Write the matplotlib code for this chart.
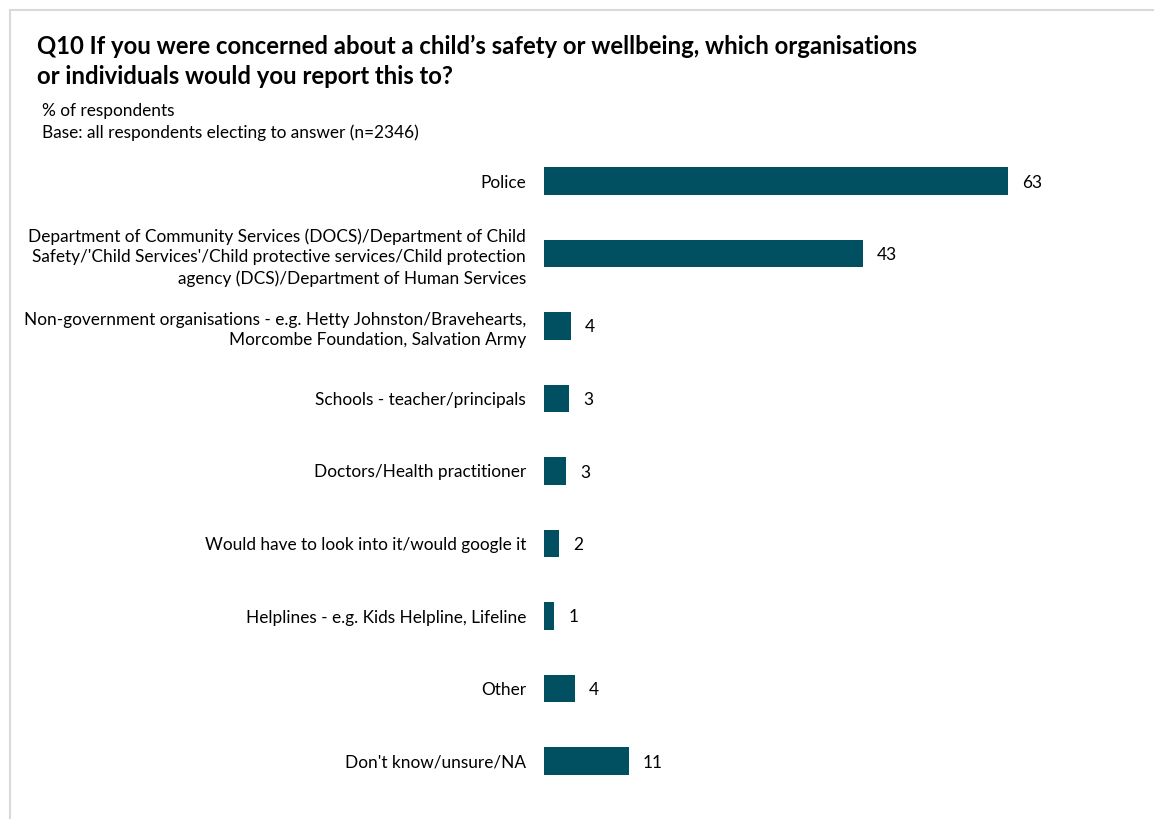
import matplotlib
matplotlib.use("Agg")
from matplotlib import pyplot as plt
from matplotlib.lines import Line2D

categories = [
    "Police",
    "Department of Community Services (DOCS)/Department of Child\nSafety/'Child Services'/Child protective services/Child protection\nagency (DCS)/Department of Human Services",
    "Non-government organisations - e.g. Hetty Johnston/Bravehearts,\nMorcombe Foundation, Salvation Army",
    "Schools - teacher/principals",
    "Doctors/Health practitioner",
    "Would have to look into it/would google it",
    "Helplines - e.g. Kids Helpline, Lifeline",
    "Other",
    "Don't know/unsure/NA",
]
values = [63, 43, 4, 3, 3, 2, 1, 4, 11]
barValues = [63, 43.3, 3.7, 3.4, 3.0, 2.0, 1.4, 4.2, 11.5]

titleLines = ["Q10 If you were concerned about a child\u2019s safety or wellbeing, which organisations",
              "or individuals would you report this to?"]
subStr1 = "% of respondents"
subStr2 = "Base: all respondents electing to answer (n=2346)"

plt.rcParams["font.family"] = ["Lato", "DejaVu Sans"]
barColor = "#005061"

W, H = 1154, 819
fig = plt.figure(figsize=(W / 100, H / 100), dpi=100)
fig.set_facecolor("white")

# light frame on the top and left edges
fig.add_artist(Line2D([10 / W, 1], [1 - 10 / H, 1 - 10 / H], color="#d9d9d9", lw=1.5))
fig.add_artist(Line2D([10 / W, 10 / W], [0, 1 - 10 / H], color="#d9d9d9", lw=1.5))

for line, base in zip(titleLines, [54, 84]):
    fig.text(37 / W, 1 - base / H, line, fontsize=17.2, fontweight="bold", va="baseline", ha="left")
fig.text(42 / W, 1 - 116 / H, subStr1, fontsize=12.4, va="baseline", ha="left")
fig.text(42 / W, 1 - 138 / H, subStr2, fontsize=12.4, va="baseline", ha="left")

top = 181 - 36.25
bottom = 761 + 36.25
axLeft = 544 / W
xmax = 80
pxPerUnit = (1008 - 544) / 63
axWidth = xmax * pxPerUnit / W
ax = fig.add_axes([axLeft, 1 - bottom / H, axWidth, (bottom - top) / H])
ypos = list(range(len(categories)))
ax.barh(ypos, barValues, height=0.385, color=barColor)
ax.set_ylim(len(categories) - 0.5, -0.5)
ax.set_xlim(0, xmax)
for y, v, bv in zip(ypos, values, barValues):
    ax.text(bv + 14 / pxPerUnit, y, str(v), va="center_baseline", ha="left", fontsize=12.5)
ax.set_yticks(ypos)
ax.set_yticklabels(categories, fontsize=12.4, linespacing=1.37, ha="right")
ax.tick_params(axis="y", length=0, pad=13)
ax.tick_params(axis="x", bottom=False, labelbottom=False)
plt.setp(ax.spines.values(), visible=False)

fig.savefig("out.png", dpi=100)
